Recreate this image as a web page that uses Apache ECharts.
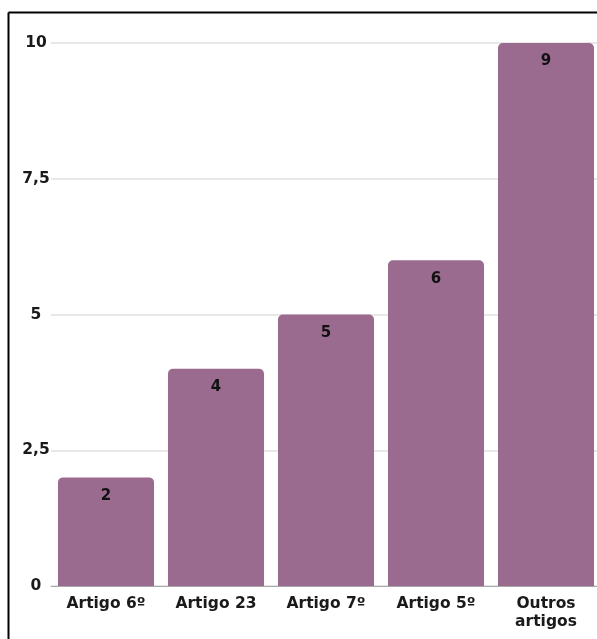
<!DOCTYPE html>
<html><head><meta charset="utf-8">
<script src="https://cdn.jsdelivr.net/npm/echarts@6/dist/echarts.min.js"></script>
<style>html,body{margin:0;padding:0;background:#fff;overflow:hidden}#c{width:610px;height:639px}</style>
</head><body><div id="c"></div>
<script>
var categories = ['Artigo 6º', 'Artigo 23', 'Artigo 7º', 'Artigo 5º', 'Outros\nartigos'];
var values = [2, 4, 5, 6, 10];
var valueLabels = ['2', '4', '5', '6', '9'];
var yTicks = [0, 2.5, 5, 7.5, 10];

var font = 'DejaVu Sans';
var chart = echarts.init(document.getElementById('c'));
chart.setOption({
  animation: false,
  grid: { left: 51, width: 550, top: 43, height: 543, containLabel: false },
  xAxis: {
    type: 'category',
    data: categories,
    axisTick: { show: false },
    axisLine: { show: true, lineStyle: { color: '#a8a8a8', width: 1 } },
    axisLabel: { color: '#1a1a1a', fontFamily: font, fontWeight: 'bold', fontSize: 15.5, margin: 9, lineHeight: 18, interval: 0 }
  },
  yAxis: {
    type: 'value',
    min: yTicks[0], max: yTicks[yTicks.length - 1], interval: 2.5,
    axisLine: { show: false }, axisTick: { show: false },
    splitLine: { lineStyle: { color: '#e0e0e0', width: 1.5 } },
    axisLabel: {
      color: '#1a1a1a', fontFamily: font, fontWeight: 'bold', fontSize: 15.5, margin: 15, align: 'center',
      formatter: function (v) { return String(v).replace('.', ','); }
    }
  },
  series: [{
    type: 'bar',
    data: values,
    barCategoryGap: '12.7%',
    itemStyle: { color: '#9b6a8f', borderRadius: [5, 5, 0, 0] },
    label: {
      show: true, position: 'insideTop', distance: 11,
      color: '#111', fontFamily: font, fontWeight: 'bold', fontSize: 15,
      formatter: function (p) { return valueLabels[p.dataIndex]; }
    }
  }],
  graphic: [
    { type: 'line', shape: { x1: 8.5, y1: 12.5, x2: 610, y2: 12.5 }, style: { stroke: '#000', lineWidth: 2 } },
    { type: 'line', shape: { x1: 8.5, y1: 12.5, x2: 8.5, y2: 640 }, style: { stroke: '#000', lineWidth: 2 } }
  ]
});
</script></body></html>
